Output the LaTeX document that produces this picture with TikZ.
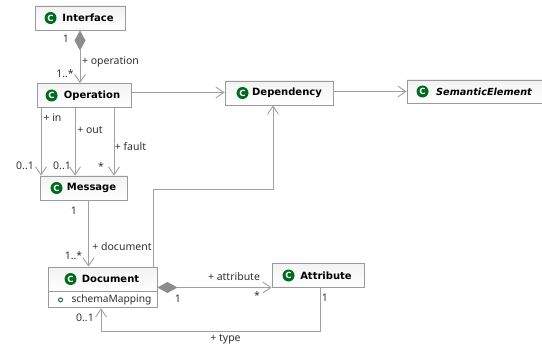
\documentclass[tikz,border=0pt]{standalone}
\usepackage{fontspec}
\setmainfont{Noto Sans}
\newfontfamily\headfont{DejaVu Sans}
\usetikzlibrary{arrows.meta}
\definecolor{linegray}{HTML}{A0A0A0}
\definecolor{boxgray}{HTML}{9A9A9A}
\definecolor{diagray}{HTML}{8C8C8C}
\definecolor{icongreen}{HTML}{006B1E}
\definecolor{labelgray}{HTML}{303030}
\tikzset{
	classbox/.style={draw=boxgray, line width=0.9pt, top color=black!5, bottom color=white, inner sep=0pt, text=black, font=\fontsize{10}{12}\headfont\bfseries},
	attrbox/.style={draw=boxgray, line width=0.9pt, fill=white, inner sep=0pt, text=labelgray, font=\fontsize{10.2}{12}\selectfont},
	classicon/.style={circle, fill=icongreen, minimum size=12pt, inner sep=0pt, text=white, font=\fontsize{8.5}{8.5}\headfont\bfseries},
	attricon/.style={circle, draw=icongreen, line width=0.9pt, minimum size=4pt, inner sep=0pt},
	assoc/.style={draw=linegray, line width=0.9pt, -{Straight Barb[length=8pt,width=11pt]}},
	compos/.style={draw=linegray, line width=0.9pt, {Diamond[length=20pt,width=11pt,color=diagray,fill=diagray]}-{Straight Barb[length=8pt,width=11pt]}},
	rolelabel/.style={inner sep=0pt, text=labelgray, font=\fontsize{10.5}{12}\selectfont},
}
\begin{document}
\begin{tikzpicture}[x=1pt, y=-1pt]
	\useasboundingbox (0,0) rectangle (542,345);

	% class boxes: name/centre x/centre y/width/icon offset
	\foreach \name/\cx/\cy/\w/\off in {
		Interface/80/18/90/16,
		Operation/84/95.5/94/15,
		Message/83.5/188/87/17,
		Dependency/279/93/108/18,
		Attribute/318/275.5/92/17,
		Document/102.5/279/109/23} {
		\node[classbox, minimum width=\w pt, minimum height=24pt] (\name) at (\cx,\cy) {\hspace{16pt}\name};
		\node[classicon] (\name Icon) at ([xshift=\off pt]\name.west) {C};
	}
	\node[classbox, minimum width=135pt, minimum height=23pt, font=\fontsize{9.7}{12}\headfont\bfseries\itshape] (SemanticElement) at (474.5,91.5) {\hspace{19pt}SemanticElement};
	\node[classicon] (SemanticIcon) at ([xshift=16pt]SemanticElement.west) {C};

	% attribute compartment
	\node[attrbox, minimum width=109pt, minimum height=16pt, anchor=north] (DocumentAttrs) at (Document.south) {\hspace{18pt}schemaMapping};
	\node[attricon] (schemaIcon) at ([xshift=13pt]DocumentAttrs.west) {};

	% positions of the bends and of the parallel lines
	\coordinate (interX) at (80,0);
	\coordinate (inX) at (41,0);
	\coordinate (outX) at (75,0);
	\coordinate (faultX) at (114,0);
	\coordinate (docX) at (88.5,0);
	\coordinate (opY) at (0,92.5);
	\coordinate (attY) at (0,287.5);
	\coordinate (depUp) at (153.5,189);
	\coordinate (depIn) at (273,189);
	\coordinate (typeRight) at (320,331);
	\coordinate (typeLeft) at (101,331);

	% connectors
	\draw[compos] (Interface.south -| interX) -- (Operation.north -| interX);
	\draw[assoc] (Operation.east |- opY) -- (Dependency.west |- opY);
	\draw[assoc] (Dependency.east |- SemanticElement.west) -- (SemanticElement.west);
	\draw[assoc] (Operation.south -| inX) -- (Message.north -| inX);
	\draw[assoc] (Operation.south -| outX) -- (Message.north -| outX);
	\draw[assoc] (Operation.south -| faultX) -- (Message.north -| faultX);
	\draw[assoc] (Message.south -| docX) -- (Document.north -| docX);
	\draw[assoc] (Document.north -| depUp) -- (depUp) -- (depIn) -- (Dependency.south -| depIn);
	\draw[compos] (Document.east |- attY) -- (Attribute.west |- attY);
	\draw[assoc] (Attribute.south -| typeRight) -- (typeRight) -- (typeLeft) -- (DocumentAttrs.south -| typeLeft);

	% role names and multiplicities
	\node[rolelabel] (oneA) at (66,39) {1};
	\node[rolelabel] (opRole) at (110.5,62) {+ operation};
	\node[rolelabel] (opMult) at (65,74) {1..*};
	\node[rolelabel] (inRole) at (52.5,118) {+ in};
	\node[rolelabel] (outRole) at (90,130) {+ out};
	\node[rolelabel] (faultRole) at (130.5,147) {+ fault};
	\node[rolelabel] (inMult) at (25,166) {0..1};
	\node[rolelabel] (outMult) at (62,166) {0..1};
	\node[rolelabel] (faultMult) at (101,167) {*};
	\node[rolelabel] (oneB) at (74,211) {1};
	\node[rolelabel] (docRole) at (122,247) {+ document};
	\node[rolelabel] (docMult) at (73.5,256) {1..*};
	\node[rolelabel] (oneC) at (178,299) {1};
	\node[rolelabel] (attRole) at (234,277) {+ attribute};
	\node[rolelabel] (attMult) at (257,296) {*};
	\node[rolelabel] (typeMult) at (85,318) {0..1};
	\node[rolelabel] (oneD) at (325,298) {1};
	\node[rolelabel] (typeRole) at (225.5,339) {+ type};
\end{tikzpicture}
\end{document}
